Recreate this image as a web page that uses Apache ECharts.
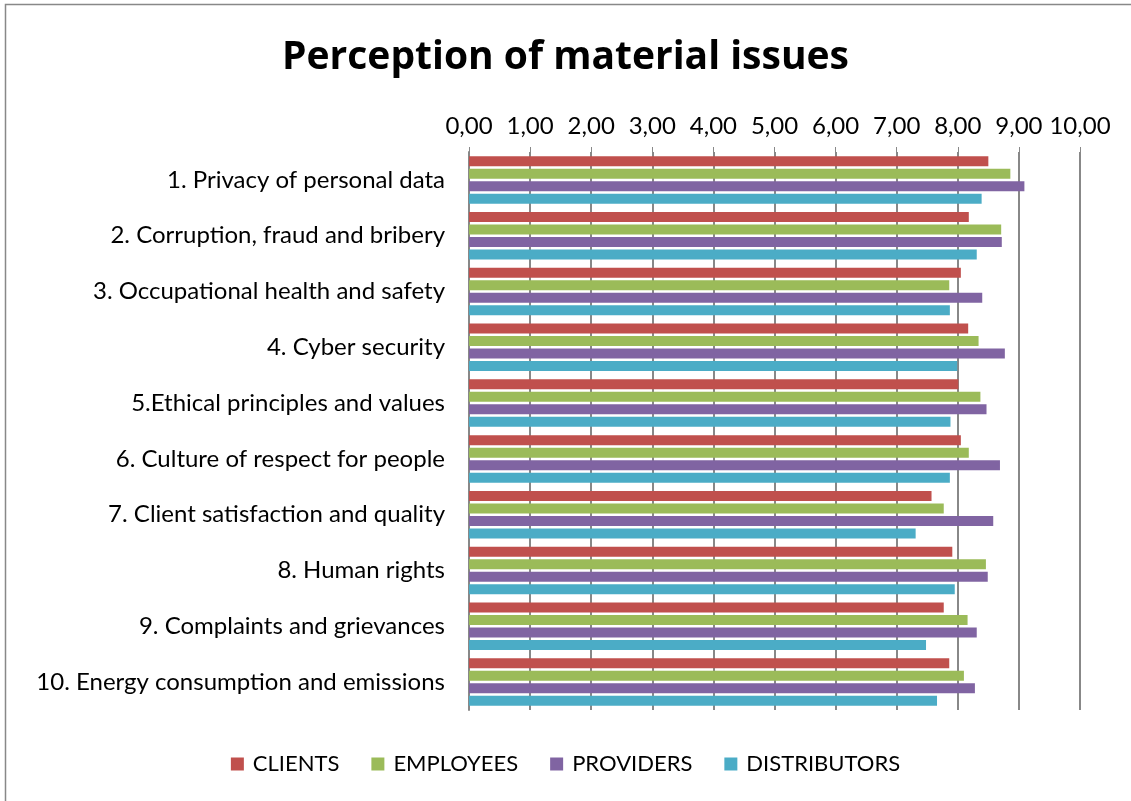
<!doctype html>
<html>
<head>
    <meta charset="UTF-8">
    <script src="https://cdn.jsdelivr.net/npm/echarts@6/dist/echarts.min.js"></script>
    <style>
        html, body { margin: 0; padding: 0; background: #fff; }
        #main { width: 1131px; height: 801px; }
    </style>
</head>
<body>
<div id="main"></div>
<script type="text/javascript">
    var categories = [
        '1. Privacy of personal data',
        '2. Corruption, fraud and bribery',
        '3. Occupational health and safety',
        '4. Cyber security',
        '5.Ethical principles and values',
        '6. Culture of respect for people',
        '7. Client satisfaction and quality',
        '8. Human rights',
        '9. Complaints and grievances',
        '10. Energy consumption and emissions'
    ];
    var clients      = [8.50, 8.18, 8.05, 8.17, 8.01, 8.05, 7.57, 7.91, 7.77, 7.86];
    var employees    = [8.86, 8.71, 7.86, 8.34, 8.37, 8.18, 7.77, 8.46, 8.16, 8.10];
    var providers    = [9.09, 8.72, 8.40, 8.77, 8.47, 8.69, 8.58, 8.49, 8.31, 8.28];
    var distributors = [8.39, 8.31, 7.87, 7.99, 7.88, 7.87, 7.31, 7.95, 7.48, 7.66];

    var font = 'Lato';
    var myChart = echarts.init(document.getElementById('main'));

    function bar(name, data, color) {
        return {
            name: name,
            type: 'bar',
            data: data,
            barWidth: 10,
            barGap: '25%',
            itemStyle: { color: color },
            animation: false
        };
    }

    var option = {
        title: {
            text: 'Perception of material issues',
            left: 'center',
            top: 33,
            textStyle: { fontFamily: 'Open Sans', fontSize: 39, fontWeight: 'bold', color: '#000' }
        },
        legend: {
            bottom: 21,
            left: 'center',
            itemWidth: 13,
            itemHeight: 13,
            itemGap: 32,
            icon: 'rect',
            textStyle: { fontFamily: font, fontSize: 22, color: '#000', padding: [0, 0, 0, 4] },
            data: ['CLIENTS', 'EMPLOYEES', 'PROVIDERS', 'DISTRIBUTORS']
        },
        grid: { left: 469, right: 51, top: 152, bottom: 91 },
        xAxis: {
            type: 'value',
            position: 'top',
            min: 0,
            max: 10,
            interval: 1,
            axisLine: { show: false },
            axisTick: { show: true, length: 5, lineStyle: { color: '#888' } },
            axisLabel: {
                margin: 14,
                fontFamily: font,
                fontSize: 24,
                color: '#000',
                formatter: function (v) { return v.toFixed(2).replace('.', ','); }
            },
            splitLine: { show: true, lineStyle: { color: '#888', width: 2 } }
        },
        yAxis: {
            type: 'category',
            inverse: true,
            data: categories,
            axisLine: { show: true, lineStyle: { color: '#888', width: 2 } },
            axisTick: { show: false },
            axisLabel: { margin: 24, fontFamily: font, fontSize: 24, color: '#000' }
        },
        series: [
            bar('CLIENTS', clients, '#c0504d'),
            bar('EMPLOYEES', employees, '#9bbb59'),
            bar('PROVIDERS', providers, '#8064a2'),
            bar('DISTRIBUTORS', distributors, '#4bacc6')
        ],
        graphic: [{
            type: 'rect',
            shape: { x: 5.5, y: 4.5, width: 1140, height: 820 },
            style: { fill: 'none', stroke: '#888', lineWidth: 1.5 },
            silent: true
        }]
    };

    myChart.setOption(option);
</script>
</body>
</html>
